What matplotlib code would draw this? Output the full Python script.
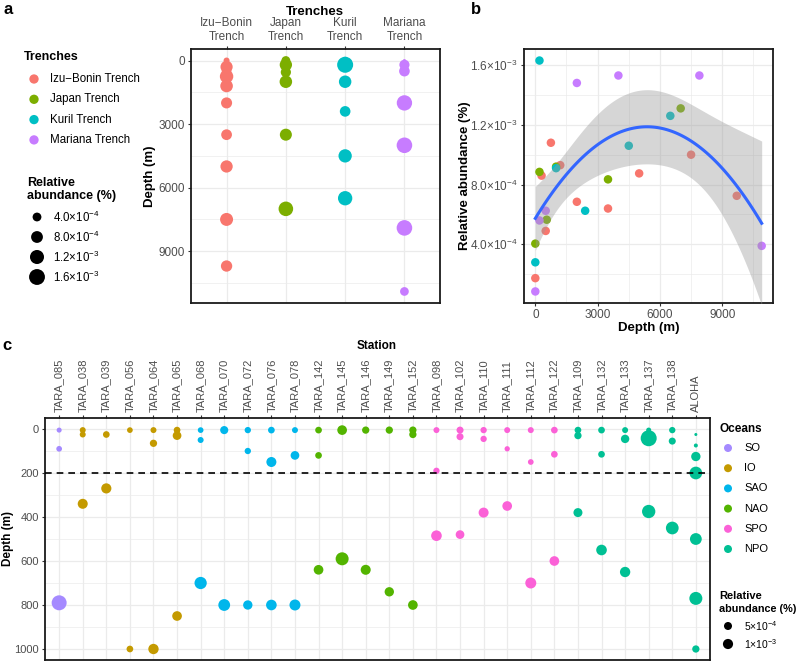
import numpy as np
import matplotlib
matplotlib.use("Agg")
import matplotlib.pyplot as plt
from matplotlib.ticker import FixedLocator

# ---- panel a / b : trench samples ----
trenches = ["Izu−Bonin Trench", "Japan Trench", "Kuril Trench", "Mariana Trench"]
trench_ticks = ["Izu−Bonin\nTrench", "Japan\nTrench", "Kuril\nTrench", "Mariana\nTrench"]
trench_colors = ["#F8766D", "#7CAE00", "#00BFC4", "#C77CFF"]

izu_depth = [0, 300, 500, 750, 1200, 2000, 3500, 5000, 7500, 9700]
izu_abund = [1.74e-4, 8.6e-4, 4.9e-4, 1.08e-3, 9.3e-4, 6.85e-4, 6.4e-4, 8.75e-4, 1.0e-3, 7.25e-4]
japan_depth = [0, 200, 550, 1000, 3500, 7000]
japan_abund = [4.05e-4, 8.85e-4, 5.65e-4, 9.2e-4, 8.35e-4, 1.31e-3]
kuril_depth = [0, 200, 1000, 2400, 4500, 6500]
kuril_abund = [2.8e-4, 1.63e-3, 9.1e-4, 6.25e-4, 1.06e-3, 1.26e-3]
mariana_depth = [0, 200, 500, 2000, 4000, 7900, 10900]
mariana_abund = [8.5e-5, 5.6e-4, 6.25e-4, 1.48e-3, 1.53e-3, 1.53e-3, 3.9e-4]

trench_depths = [izu_depth, japan_depth, kuril_depth, mariana_depth]
trench_abunds = [izu_abund, japan_abund, kuril_abund, mariana_abund]

size_breaks_a = [4e-4, 8e-4, 1.2e-3, 1.6e-3]
size_labels_a = [r"$4.0{\times}10^{-4}$", r"$8.0{\times}10^{-4}$",
                 r"$1.2{\times}10^{-3}$", r"$1.6{\times}10^{-3}$"]

# ---- panel c : Tara stations + ALOHA ----
oceans = ["SO", "IO", "SAO", "NAO", "SPO", "NPO"]
ocean_colors = ["#A58AFF", "#C49A00", "#00B6EB", "#53B400", "#FB61D7", "#00C094"]

stations = ["TARA_085", "TARA_038", "TARA_039", "TARA_056", "TARA_064", "TARA_065",
            "TARA_068", "TARA_070", "TARA_072", "TARA_076", "TARA_078",
            "TARA_142", "TARA_145", "TARA_146", "TARA_149", "TARA_152",
            "TARA_098", "TARA_102", "TARA_110", "TARA_111", "TARA_112", "TARA_122",
            "TARA_109", "TARA_132", "TARA_133", "TARA_137", "TARA_138", "ALOHA"]
station_ocean = ["SO", "IO", "IO", "IO", "IO", "IO",
                 "SAO", "SAO", "SAO", "SAO", "SAO",
                 "NAO", "NAO", "NAO", "NAO", "NAO",
                 "SPO", "SPO", "SPO", "SPO", "SPO", "SPO",
                 "NPO", "NPO", "NPO", "NPO", "NPO", "NPO"]

c_station = ["TARA_085"] * 3 + ["TARA_038"] * 3 + ["TARA_039"] * 2 + ["TARA_056"] * 2 + \
            ["TARA_064"] * 3 + ["TARA_065"] * 3 + ["TARA_068"] * 3 + ["TARA_070"] * 2 + \
            ["TARA_072"] * 3 + ["TARA_076"] * 3 + ["TARA_078"] * 3 + ["TARA_142"] * 3 + \
            ["TARA_145"] * 2 + ["TARA_146"] * 2 + ["TARA_149"] * 2 + ["TARA_152"] * 3 + \
            ["TARA_098"] * 3 + ["TARA_102"] * 3 + ["TARA_110"] * 3 + ["TARA_111"] * 3 + \
            ["TARA_112"] * 3 + ["TARA_122"] * 3 + ["TARA_109"] * 3 + ["TARA_132"] * 3 + \
            ["TARA_133"] * 3 + ["TARA_137"] * 3 + ["TARA_138"] * 3 + ["ALOHA"] * 7
c_depth = [5, 90, 790, 5, 25, 340, 25, 270, 5, 1000,
           5, 65, 1000, 5, 30, 850, 5, 50, 700, 5, 800,
           5, 100, 800, 5, 150, 800, 5, 120, 800, 5, 120, 640,
           5, 590, 5, 640, 5, 740, 5, 25, 800,
           5, 190, 485, 5, 35, 480, 5, 45, 380, 5, 90, 350,
           5, 150, 700, 5, 115, 600, 5, 30, 380, 5, 115, 550,
           5, 45, 650, 5, 42, 375, 5, 55, 450,
           25, 75, 125, 200, 500, 770, 1000]
c_abund = [1.0e-4, 1.6e-4, 2.77e-3, 1.9e-4, 1.9e-4, 9.6e-4, 2.8e-4, 1.0e-3, 1.6e-4, 2.8e-4,
           1.9e-4, 3.7e-4, 1.05e-3, 2.8e-4, 6.4e-4, 8.7e-4, 1.6e-4, 1.9e-4, 1.66e-3, 5.2e-4, 1.5e-3,
           2.3e-4, 2.3e-4, 7.9e-4, 2.8e-4, 9.6e-4, 1.13e-3, 1.9e-4, 6.4e-4, 1.24e-3, 2.8e-4, 2.8e-4, 8.7e-4,
           8.7e-4, 1.93e-3, 3.7e-4, 9.6e-4, 3.7e-4, 7.9e-4, 3.7e-4, 3.7e-4, 8.7e-4,
           1.9e-4, 2.3e-4, 1.13e-3, 3.3e-4, 3.3e-4, 6.4e-4, 2.3e-4, 2.3e-4, 9.6e-4, 1.9e-4, 1.2e-4, 8.7e-4,
           1.9e-4, 1.6e-4, 1.24e-3, 2.8e-4, 2.8e-4, 8.7e-4, 2.8e-4, 3.7e-4, 7.1e-4, 2.8e-4, 2.8e-4, 1.13e-3,
           1.9e-4, 5.8e-4, 1.05e-3, 1.0e-4, 3.25e-3, 2.05e-3, 2.3e-4, 3.3e-4, 1.83e-3,
           2.0e-5, 3.9e-5, 7.9e-4, 1.83e-3, 1.5e-3, 1.93e-3, 3.7e-4]

size_breaks_c = [5e-4, 1e-3]
size_labels_c = [r"$5{\times}10^{-4}$", r"$1{\times}10^{-3}$"]

# ---------------------------------------------------------------
W, H, DPI = 800, 661, 100
plt.rcParams["font.family"] = ["Liberation Sans", "DejaVu Sans"]
plt.rcParams["mathtext.fontset"] = "custom"
plt.rcParams["mathtext.rm"] = "Liberation Sans"
plt.rcParams["mathtext.it"] = "Liberation Sans:italic"
plt.rcParams["mathtext.bf"] = "Liberation Sans:bold"

GRID = "#EBEBEB"
TICKTXT = "#4D4D4D"

fig = plt.figure(figsize=(W / DPI, H / DPI), dpi=DPI)


def add_ax(x0, y0, x1, y1):
    return fig.add_axes([x0 / W, 1 - y1 / H, (x1 - x0) / W, (y1 - y0) / H])


def pts2(d_px):
    # pixel diameter -> scatter area in points^2
    return (d_px * 72 / DPI) ** 2


def size_scale(v, vmin, vmax, dmin, dmax):
    v = np.asarray(v, dtype=float)
    return dmin + (dmax - dmin) * np.sqrt(np.clip((v - vmin) / (vmax - vmin), 0, 1))


def style_axes(ax, fs):
    ax.set_facecolor("white")
    ax.set_axisbelow(True)
    for sp in ax.spines.values():
        sp.set_linewidth(1.3)
        sp.set_color("#1A1A1A")
    ax.grid(which="major", color=GRID, lw=0.9)
    ax.grid(which="minor", color=GRID, lw=0.5)
    ax.tick_params(which="major", length=2.5, width=0.8, color="#333333",
                   labelcolor=TICKTXT, labelsize=fs, pad=2)
    ax.tick_params(which="minor", length=0)


def ftext(x, y, s, **kw):
    fig.text(x / W, 1 - y / H, s, **kw)


def t975(df):
    z = 1.959964
    return (z + (z ** 3 + z) / (4 * df) + (5 * z ** 5 + 16 * z ** 3 + 3 * z) / (96 * df ** 2)
            + (3 * z ** 7 + 19 * z ** 5 + 17 * z ** 3 - 15 * z) / (384 * df ** 3))


# ---- panel a ----
all_a = np.concatenate([np.asarray(a) for a in trench_abunds])
amin, amax = all_a.min(), all_a.max()
ax_a = add_ax(191, 49, 440, 303)
style_axes(ax_a, 8.5)
for i, (dep, ab, col) in enumerate(zip(trench_depths, trench_abunds, trench_colors)):
    ax_a.scatter(np.full(len(dep), i), dep, s=pts2(size_scale(ab, amin, amax, 2.9, 16)),
                 color=col, edgecolors="none", zorder=3)
all_d = np.concatenate([np.asarray(d, dtype=float) for d in trench_depths])
dpad = 0.05 * (all_d.max() - all_d.min())
ax_a.set_xlim(-0.6, len(trenches) - 0.4)
ax_a.set_ylim(all_d.max() + dpad, all_d.min() - dpad)
ax_a.set_xticks(range(len(trenches)))
ax_a.set_xticklabels(trench_ticks, linespacing=1.15)
ax_a.xaxis.tick_top()
ax_a.set_yticks([0, 3000, 6000, 9000])
ax_a.yaxis.set_minor_locator(FixedLocator([1500, 4500, 7500, 10500]))
ftext(315, 12, "Trenches", ha="center", va="center", fontsize=9.5, fontweight="bold")
ftext(150, 176, "Depth (m)", ha="center", va="center", rotation=90, fontsize=9.5, fontweight="bold")

# ---- panel b ----
ax_b = add_ax(524, 49, 773, 303)
style_axes(ax_b, 8.5)
for dep, ab, col in zip(trench_depths, trench_abunds, trench_colors):
    ax_b.scatter(dep, ab, s=pts2(8.5), color=col, edgecolors="none", zorder=2)

# quadratic fit, y ~ poly(x, 2), with 95% confidence band
xk = all_d / 1000.0
X = np.column_stack([np.ones_like(xk), xk, xk ** 2])
beta, *_ = np.linalg.lstsq(X, all_a, rcond=None)
resid = all_a - X @ beta
dof = len(all_a) - 3
sigma2 = resid @ resid / dof
xtx_inv = np.linalg.inv(X.T @ X)
xg = np.linspace(all_d.min(), all_d.max(), 120)
Xg = np.column_stack([np.ones_like(xg), xg / 1000, (xg / 1000) ** 2])
fit = Xg @ beta
se = np.sqrt(np.einsum("ij,jk,ik->i", Xg, xtx_inv, Xg) * sigma2)
tq = t975(dof)
ax_b.fill_between(xg, fit - tq * se, fit + tq * se, color="#999999", alpha=0.4,
                  lw=0, zorder=3)
ax_b.plot(xg, fit, color="#3366FF", lw=2.2, zorder=4)

ax_b.set_xlim(all_d.min() - dpad, all_d.max() + dpad)
apad = 0.05 * (amax - amin)
ax_b.set_ylim(amin - apad, amax + apad)
ax_b.set_xticks([0, 3000, 6000, 9000])
ax_b.xaxis.set_minor_locator(FixedLocator([1500, 4500, 7500, 10500]))
ax_b.set_yticks(size_breaks_a)
ax_b.set_yticklabels(size_labels_a)
ax_b.yaxis.set_minor_locator(FixedLocator([2e-4, 6e-4, 1e-3, 1.4e-3]))
ftext(465, 176, "Relative abundance (%)", ha="center", va="center", rotation=90,
      fontsize=9.5, fontweight="bold")
ftext(649, 328, "Depth (m)", ha="center", va="center", fontsize=9.5, fontweight="bold")

# ---- panel c ----
ax_c = add_ax(45, 418, 710, 660)
style_axes(ax_c, 8)
cmin, cmax = min(c_abund), max(c_abund)
c_x = np.array([stations.index(s) for s in c_station])
c_col = [ocean_colors[oceans.index(station_ocean[stations.index(s)])] for s in c_station]
ax_c.scatter(c_x, c_depth, s=pts2(size_scale(c_abund, cmin, cmax, 3, 16)),
             c=c_col, edgecolors="none", zorder=3)
ax_c.axhline(200, color="black", lw=1.2, ls=(0, (4, 3)), zorder=4)
ax_c.set_xlim(-0.6, len(stations) - 0.4)
cpad = 0.05 * (max(c_depth) - 0)
ax_c.set_ylim(max(c_depth) + cpad, 0 - cpad)
ax_c.set_xticks(range(len(stations)))
ax_c.set_xticklabels(stations, rotation=90)
ax_c.xaxis.tick_top()
ax_c.set_yticks(range(0, 1001, 200))
ax_c.yaxis.set_minor_locator(FixedLocator(range(100, 1000, 200)))
ftext(377, 346, "Station", ha="center", va="center", fontsize=8.5, fontweight="bold")
ftext(8, 539, "Depth (m)", ha="center", va="center", rotation=90, fontsize=8.5,
      fontweight="bold")

# ---- legends + panel letters (overlay in pixel coords) ----
lg = fig.add_axes([0, 0, 1, 1], zorder=10)
lg.set_xlim(0, W)
lg.set_ylim(H, 0)
lg.axis("off")
lg.patch.set_alpha(0)

lg.text(24, 57, "Trenches", ha="left", va="center", fontsize=9, fontweight="bold")
for i, (name, col) in enumerate(zip(trenches, trench_colors)):
    y = 79 + 20.3 * i
    lg.scatter(34, y, s=pts2(9.3), color=col, edgecolors="none")
    lg.text(50, y, name, ha="left", va="center", fontsize=8.3)
lg.text(27, 183, "Relative", ha="left", va="center", fontsize=9, fontweight="bold")
lg.text(27, 196, "abundance (%)", ha="left", va="center", fontsize=9, fontweight="bold")
for i, (b, lab) in enumerate(zip(size_breaks_a, size_labels_a)):
    y = 217 + 20 * i
    lg.scatter(37, y, s=pts2(float(size_scale(b, amin, amax, 2.9, 16))), color="black",
               edgecolors="none")
    lg.text(53, y, lab, ha="left", va="center", fontsize=8.3)

lg.text(719, 429, "Oceans", ha="left", va="center", fontsize=8.5, fontweight="bold")
for i, (name, col) in enumerate(zip(oceans, ocean_colors)):
    y = 448 + 20.2 * i
    lg.scatter(728, y, s=pts2(8), color=col, edgecolors="none")
    lg.text(744, y, name, ha="left", va="center", fontsize=8)
lg.text(719, 596, "Relative", ha="left", va="center", fontsize=8, fontweight="bold")
lg.text(719, 609, "abundance (%)", ha="left", va="center", fontsize=7.8, fontweight="bold")
for i, (b, lab) in enumerate(zip(size_breaks_c, size_labels_c)):
    y = 626 + 18 * i
    lg.scatter(728, y, s=pts2(float(size_scale(b, cmin, cmax, 3, 16))), color="black",
               edgecolors="none")
    lg.text(744, y, lab, ha="left", va="center", fontsize=7.5)

lg.text(8, 9, "a", ha="center", va="center", fontsize=12, fontweight="bold")
lg.text(476, 9, "b", ha="center", va="center", fontsize=12, fontweight="bold")
lg.text(7, 345, "c", ha="center", va="center", fontsize=12, fontweight="bold")

fig.savefig("out.png", dpi=DPI)
